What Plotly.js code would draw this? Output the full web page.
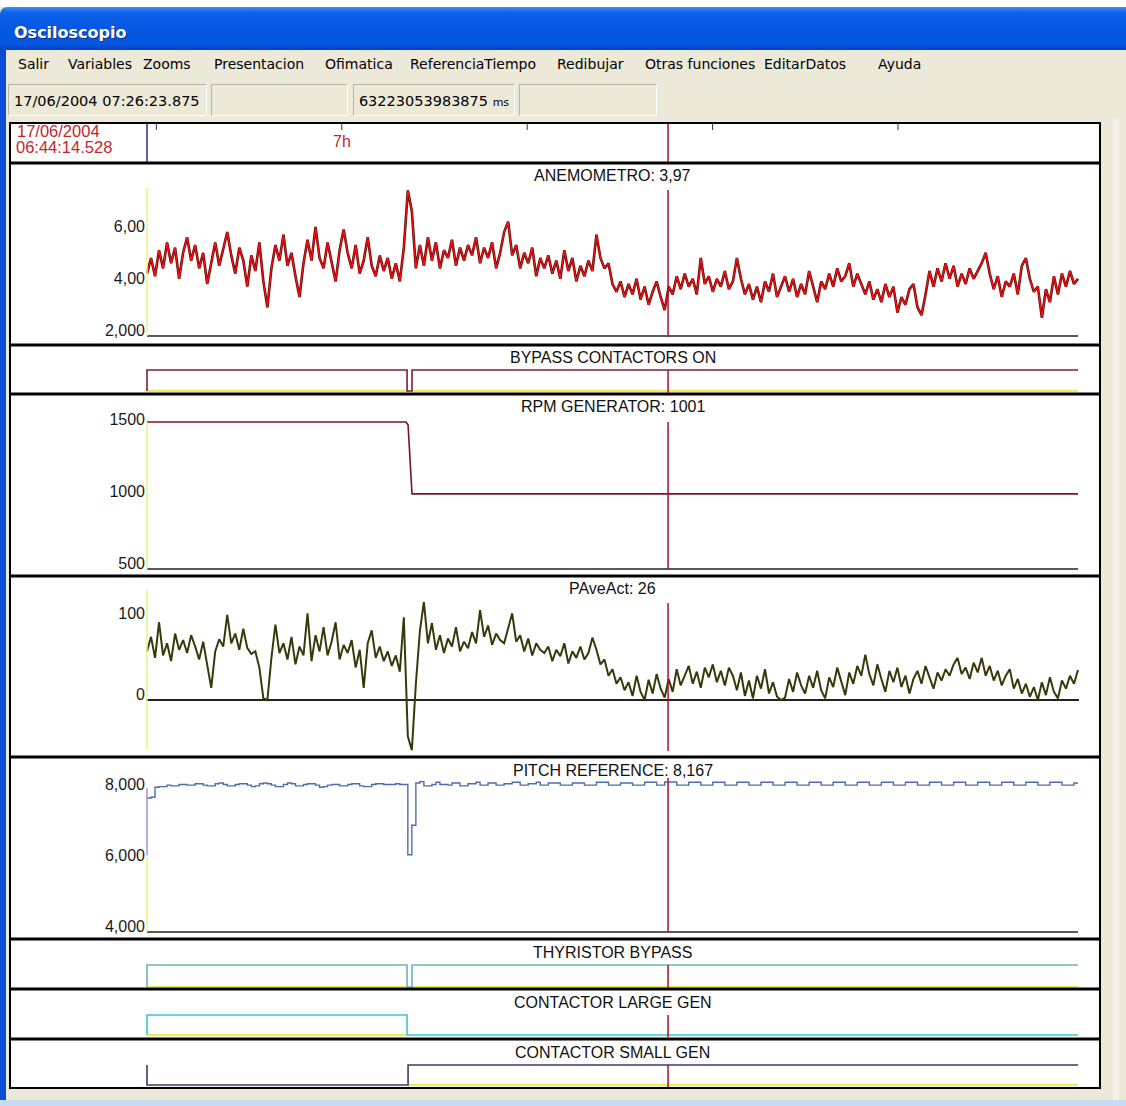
<!DOCTYPE html>
<html>
<head>
<meta charset="utf-8">
<script src="https://cdn.plot.ly/plotly-3.0.1.min.js"></script>
<style>
html,body{margin:0;padding:0;width:1126px;height:1106px;overflow:hidden;background:#ece9d8;font-family:"DejaVu Sans",sans-serif;position:relative;}
#topwhite{position:absolute;left:0;top:0;width:1126px;height:7px;background:#ffffff;}
#titlebar{position:absolute;left:0;top:7px;width:1126px;height:43px;border-top-left-radius:7px;
 background:linear-gradient(to bottom,#3d8ff6 0%,#0e63ea 12%,#0558e2 45%,#0556e0 85%,#0344c4 100%);}
#titletext{position:absolute;left:14px;top:4px;height:43px;line-height:43px;color:#fff;font-weight:bold;font-size:16px;text-shadow:1px 1px 0 #0b2f8a;}
.mi{position:absolute;top:55px;height:18px;line-height:18px;font-size:14px;color:#000;white-space:nowrap;}
.sb{position:absolute;top:84px;height:32px;line-height:32px;box-sizing:border-box;border:1px solid;border-color:#b8b4a4 #ffffff #ffffff #b8b4a4;font-size:14.5px;color:#000;white-space:nowrap;}
#leftborder{position:absolute;left:0;top:50px;width:6px;height:1056px;background:#0c4bd6;}
#bottomstrip{position:absolute;left:0;top:1100px;width:1126px;height:6px;background:#c9dcf6;}
#rightstrip{position:absolute;left:1113px;top:118px;width:6px;height:982px;background:#f3f1e7;}
#plot{position:absolute;left:8px;top:120px;width:1094px;height:970px;}
</style>
</head>
<body>
<div id="topwhite"></div>
<div id="titlebar"><div id="titletext">Osciloscopio</div></div>
<div id="menu"></div>
<div id="status"></div>
<div id="leftborder"></div>
<div id="rightstrip"></div>
<div id="bottomstrip"></div>
<div id="plot"></div>
<script>
// ---------------- DATA ----------------
const menuItems = ["Salir","Variables","Zooms","Presentacion","Ofimatica","ReferenciaTiempo","Redibujar","Otras funciones","EditarDatos","Ayuda"];
const statusCursorDate = "17/06/2004 07:26:23.875";
const statusCursorMs = "63223053983875";
const startDate = "17/06/2004";
const startClock = "06:44:14.528";

const T_END = 75.32;          // minutes shown after start
const CURSOR_T = 42.156;      // cursor position, minutes after start (07:26:23.875)
const tickTimes = [0.758, 15.758, 30.758, 45.758, 60.758];  // 06:45, 07:00, 07:15, 07:30, 07:45
const tickLabels = ["", "7h", "", "", ""];

const panelTitles = ["ANEMOMETRO: 3,97","BYPASS CONTACTORS ON","RPM GENERATOR: 1001","PAveAct: 26","PITCH REFERENCE: 8,167","THYRISTOR BYPASS","CONTACTOR LARGE GEN","CONTACTOR SMALL GEN"];

const anemoTickVals = [2, 4, 6];
const anemoTickText = ["2,000", "4,00", "6,00"];
const rpmTickVals = [500, 1000, 1500];
const rpmTickText = ["500", "1000", "1500"];
const paveTickVals = [0, 100];
const paveTickText = ["0", "100"];
const pitchTickVals = [4, 6, 8];
const pitchTickText = ["4,000", "6,000", "8,000"];

const anemometro = [
 4.4,5.0,4.3,5.3,4.6,5.6,4.8,5.4,4.2,5.2,
 5.8,4.9,5.5,4.6,5.2,4.0,4.8,5.6,4.7,5.3,
 6.0,5.1,4.4,5.4,4.9,3.9,5.1,4.5,5.6,4.1,
 3.1,4.6,5.5,4.9,5.9,4.7,5.2,4.3,3.5,4.8,
 5.7,4.9,6.2,5.0,4.6,5.6,4.8,4.1,5.3,6.1,
 5.2,4.6,5.5,4.4,4.9,5.8,4.7,4.3,5.1,4.5,
 5.0,4.2,4.8,4.1,5.4,7.6,6.8,4.6,5.5,4.7,
 5.8,4.9,5.6,4.6,5.3,5.0,5.7,4.7,5.4,4.9,
 5.5,5.1,5.8,4.8,5.4,5.0,5.6,4.6,5.2,6.0,
 6.4,5.1,5.5,4.6,5.2,4.8,5.4,4.3,5.0,4.6,
 5.1,4.4,4.9,4.2,5.3,4.5,5.0,4.1,4.7,4.3,
 4.9,4.5,5.9,5.0,4.6,4.8,4.0,3.7,4.1,3.5,
 4.0,3.6,4.2,3.4,3.9,3.2,3.7,4.1,3.5,3.0,
 3.9,3.6,4.3,3.8,4.4,3.9,4.2,3.6,5.0,4.0,
 4.3,3.7,4.2,3.9,4.5,3.8,4.1,5.0,4.2,3.6,
 4.0,3.4,3.9,3.3,4.1,3.7,4.4,3.5,3.9,4.3,
 3.7,4.2,3.5,4.0,3.6,4.5,3.9,3.3,4.1,3.8,
 4.4,3.9,4.6,4.1,4.3,4.8,3.9,4.4,4.0,3.6,
 4.1,3.4,3.8,3.3,4.0,3.5,3.9,2.9,3.5,3.2,
 3.8,4.0,3.1,2.8,3.6,4.5,3.9,4.6,4.1,4.8,
 4.2,4.7,3.9,4.4,4.0,4.6,4.2,4.5,4.8,5.2,
 4.4,3.8,4.3,3.5,4.1,3.9,4.4,3.6,4.7,5.0,
 4.2,3.7,3.9,2.7,3.8,3.3,4.3,3.6,4.4,3.9,
 4.5,4.0,4.2
];

const paveAct = [
 60,78,52,96,55,70,48,82,62,74,
 58,80,66,50,72,45,15,60,75,66,
 105,70,82,62,88,64,57,60,40,2,
 0,52,93,58,70,50,78,44,66,55,
 107,48,80,60,90,55,72,96,50,68,
 58,74,40,62,15,70,86,52,66,48,
 60,42,55,35,102,-45,-62,20,85,121,
 70,95,62,80,58,76,66,90,60,72,
 64,84,70,111,78,92,68,82,74,70,
 88,107,72,80,60,76,55,70,62,58,
 66,48,62,54,70,45,60,52,66,50,
 58,77,62,44,50,30,38,20,28,12,
 22,5,30,10,0,25,8,32,14,3,
 26,10,38,18,30,42,20,35,15,40,
 28,44,22,36,18,40,30,12,34,5,
 24,2,30,14,38,8,22,4,0,3,
 26,10,34,18,8,30,15,36,12,2,
 28,16,40,22,6,34,20,42,30,56,
 32,18,44,26,10,36,22,40,16,30,
 8,26,36,20,42,28,14,34,24,38,
 30,44,52,32,40,26,46,34,52,30,
 42,24,36,18,30,38,14,26,8,20,
 4,16,0,22,6,28,10,2,24,14,
 30,20,37
];

const pitchRef = [
 7.72,7.74,8.02,8.04,8.04,8.08,8.06,8.06,8.10,8.10,
 8.08,8.08,8.12,8.12,8.08,8.06,8.06,8.12,8.14,8.10,
 8.06,8.06,8.10,8.12,8.12,8.08,8.04,8.06,8.12,8.14,
 8.12,8.08,8.04,8.04,8.10,8.14,8.12,8.06,8.06,8.10,
 8.12,8.12,8.08,8.02,8.04,8.08,8.10,8.10,8.06,8.06,
 8.10,8.12,8.12,8.06,8.04,8.04,8.10,8.12,8.12,8.10,
 8.10,8.10,8.12,8.10,8.10,6.12,6.95,8.14,8.18,8.06,
 8.06,8.10,8.16,8.10,8.10,8.08,8.14,8.14,8.06,8.06,
 8.12,8.12,8.16,8.08,8.08,8.14,8.14,8.08,8.08,8.12,
 8.12,8.16,8.16,8.08,8.08,8.12,8.12,8.16,8.08,8.08,
 8.14,8.14,8.14,8.08,8.08,8.08,8.14,8.14,8.14,8.08,
 8.08,8.08,8.16,8.16,8.16,8.08,8.08,8.08,8.14,8.14,
 8.14,8.08,8.08,8.08,8.16,8.16,8.16,8.08,8.08,8.17,
 8.17,8.17,8.08,8.08,8.08,8.16,8.16,8.16,8.08,8.08,
 8.08,8.16,8.16,8.16,8.08,8.08,8.08,8.16,8.16,8.16,
 8.08,8.08,8.08,8.16,8.16,8.16,8.08,8.08,8.08,8.16,
 8.16,8.16,8.08,8.08,8.08,8.16,8.16,8.16,8.08,8.08,
 8.08,8.16,8.16,8.16,8.08,8.08,8.08,8.16,8.16,8.16,
 8.08,8.08,8.08,8.16,8.16,8.16,8.08,8.08,8.08,8.16,
 8.16,8.16,8.08,8.08,8.08,8.16,8.16,8.16,8.08,8.08,
 8.08,8.16,8.16,8.16,8.08,8.08,8.08,8.16,8.16,8.16,
 8.08,8.08,8.08,8.16,8.16,8.16,8.08,8.08,8.08,8.16,
 8.16,8.16,8.08,8.08,8.08,8.16,8.16,8.16,8.08,8.08,
 8.08,8.14,8.14
];

const rpmTimes = [0, 20.95, 21.12, 21.44, 75.32];
const rpmValues = [1500, 1500, 1480, 1001, 1001];

const bypassTimes = [0, 0, 21.04, 21.44, 75.32];
const bypassStates = [0, 1, 0, 1, 1];
const thyristorTimes = [0, 0, 21.04, 21.44, 75.32];
const thyristorStates = [0, 1, 0, 1, 1];
const largeGenTimes = [0, 0, 21.04, 75.32];
const largeGenStates = [0, 1, 0, 0];
const smallGenTimes = [0, 0, 21.12, 75.32];
const smallGenStates = [1, 0, 1, 1];

// ---------------- CHROME ----------------
const menuX = [18, 68, 143, 214, 325, 410, 557, 645, 764, 878];
const menu = document.getElementById('menu');
menuItems.forEach((m, i) => {
  const s = document.createElement('div'); s.className = 'mi'; s.style.left = menuX[i] + 'px'; s.textContent = m; menu.appendChild(s);
});
const status = document.getElementById('status');
const boxes = [[8, 207, statusCursorDate, 'left'], [211, 348, '', 'left'], [353, 515, statusCursorMs + ' <span style="font-size:11px">ms</span>', 'center'], [519, 657, '', 'left']];
boxes.forEach(b => {
  const d = document.createElement('div'); d.className = 'sb';
  d.style.left = b[0] + 'px'; d.style.width = (b[1] - b[0]) + 'px';
  d.style.textAlign = b[3]; d.style.paddingLeft = b[3] === 'left' ? '5px' : '0';
  d.innerHTML = b[2]; status.appendChild(d);
});

// ---------------- GEOMETRY ----------------
const DIV_LEFT = 8, DIV_TOP = 120, DIV_W = 1094, DIV_H = 970;
const DATA_L = 147, DATA_R = 1078;             // pixel span of [0, T_END]
const PX_PER_MIN = (DATA_R - DATA_L) / T_END;
const PLOT_L = 146, PLOT_R = 1079;
const fy = p => (DIV_TOP + DIV_H - p) / DIV_H;
const fx = p => (p - PLOT_L) / (PLOT_R - PLOT_L);
const pxToT = p => (p - DATA_L) / PX_PER_MIN;

const FONT = "'Liberation Sans', Arial, sans-serif";
const TICKFONT = {family: FONT, size: 16, color: '#1a1a1a'};

function yAxisFor(pTop, pBot, vA, pA, vB, pB, extra) {
  const k = (vB - vA) / (pB - pA);
  const v = p => vA + (p - pA) * k;
  return Object.assign({
    domain: [fy(pBot), fy(pTop)], range: [v(pBot), v(pTop)], anchor: 'x',
    showgrid: false, zeroline: false, showline: false, ticks: '', showticklabels: false,
    fixedrange: true, tickfont: TICKFONT
  }, extra || {});
}

const sampleTimes = anemometro.map((_, i) => i * T_END / (anemometro.length - 1));

function highSegments(T, S) {
  const x = [], y = [];
  for (let i = 0; i < T.length - 1; i++) {
    if (S[i] === 1 && T[i + 1] > T[i]) { x.push(T[i], T[i + 1], null); y.push(0, 0, null); }
  }
  return {x, y};
}

const YELLOW = '#eded5a';
const traces = [];
function addDigital(T, S, yax, color) {
  const hs = highSegments(T, S);
  traces.push({x: hs.x, y: hs.y, yaxis: yax, mode: 'lines', line: {color: YELLOW, width: 2.5}, hoverinfo: 'skip'});
  traces.push({x: T, y: S, yaxis: yax, mode: 'lines', line: {color: color, width: 1.6, shape: 'hv'}, hoverinfo: 'skip'});
}

traces.push({x: sampleTimes, y: anemometro, yaxis: 'y', mode: 'lines', line: {color: '#5c0a0a', width: 2.6}, hoverinfo: 'skip'});
traces.push({x: sampleTimes, y: anemometro, yaxis: 'y', mode: 'lines', line: {color: '#ff1010', width: 1.2}, hoverinfo: 'skip'});
addDigital(bypassTimes, bypassStates, 'y2', '#7e1f30');
traces.push({x: rpmTimes, y: rpmValues, yaxis: 'y3', mode: 'lines', line: {color: '#7a1424', width: 1.6}, hoverinfo: 'skip'});
traces.push({x: sampleTimes, y: paveAct, yaxis: 'y4', mode: 'lines', line: {color: '#3a380a', width: 2.0}, hoverinfo: 'skip'});
traces.push({x: sampleTimes, y: pitchRef, yaxis: 'y5', mode: 'lines', line: {color: '#4d6cae', width: 1.4, shape: 'hv'}, hoverinfo: 'skip'});
addDigital(thyristorTimes, thyristorStates, 'y6', '#72b0c4');
addDigital(largeGenTimes, largeGenStates, 'y7', '#36c8d2');
addDigital(smallGenTimes, smallGenStates, 'y8', '#4a3268');

// ---------------- SHAPES ----------------
const shapes = [];
shapes.push({type: 'rect', xref: 'paper', yref: 'paper', x0: fx(10), x1: fx(1100), y0: fy(1088), y1: fy(123),
  fillcolor: '#ffffff', line: {color: '#000', width: 2}, layer: 'below'});
[163, 345, 394, 576, 757, 939, 989, 1039].forEach(p => shapes.push({type: 'line', xref: 'paper', yref: 'paper',
  x0: fx(10), x1: fx(1100), y0: fy(p), y1: fy(p), line: {color: '#000', width: 3}}));
[336, 569, 932].forEach(p => shapes.push({type: 'line', xref: 'paper', yref: 'paper',
  x0: fx(DATA_L), x1: fx(DATA_R), y0: fy(p), y1: fy(p), line: {color: '#222', width: 1.5}}));
function vline(t, pTop, pBot, color, w) {
  shapes.push({type: 'line', xref: 'x', yref: 'paper', x0: t, x1: t, y0: fy(pBot), y1: fy(pTop), line: {color: color, width: w}});
}
vline(0, 124, 162, '#2c2c8c', 1.5);
vline(0, 188, 336, '#f2f27a', 1.5);
vline(0, 422, 569, '#f2f27a', 1.5);
vline(0, 590, 750, '#f2f27a', 1.5);
vline(0, 788, 855, '#b08ad0', 1.5);
vline(0, 855, 932, '#f2f27a', 1.5);
tickTimes.forEach(t => vline(t, 124, 130, '#333', 1));
[[124, 162], [190, 337], [370, 393], [422, 569], [603, 751], [778, 932], [965, 988], [1015, 1037], [1065, 1087]]
  .forEach(r => vline(CURSOR_T, r[0], r[1], '#a3142c', 1.5));

// ---------------- ANNOTATIONS ----------------
const annotations = [];
const titleY = [175, 357, 407, 589, 770, 952, 1002, 1052];
panelTitles.forEach((t, i) => annotations.push({text: t, xref: 'paper', yref: 'paper', x: 0.5, y: fy(titleY[i]),
  xanchor: 'center', yanchor: 'middle', showarrow: false, font: {family: FONT, size: 16, color: '#111'}}));
annotations.push({text: startDate, xref: 'paper', yref: 'paper', x: fx(15), y: fy(131), xanchor: 'left', yanchor: 'middle',
  showarrow: false, font: {family: FONT, size: 16.5, color: '#c4262c'}});
annotations.push({text: startClock, xref: 'paper', yref: 'paper', x: fx(14), y: fy(147), xanchor: 'left', yanchor: 'middle',
  showarrow: false, font: {family: FONT, size: 16.5, color: '#c4262c'}});
tickTimes.forEach((t, i) => { if (tickLabels[i]) annotations.push({text: tickLabels[i], xref: 'x', yref: 'paper', x: t, y: fy(141),
  xanchor: 'center', yanchor: 'middle', showarrow: false, font: {family: FONT, size: 16, color: '#c4262c'}}); });

// ---------------- LAYOUT ----------------
const layout = {
  width: DIV_W, height: DIV_H,
  margin: {l: PLOT_L - DIV_LEFT, r: DIV_LEFT + DIV_W - PLOT_R, t: 0, b: 0, pad: 0},
  paper_bgcolor: 'rgba(0,0,0,0)', plot_bgcolor: 'rgba(0,0,0,0)',
  showlegend: false,
  xaxis: {range: [pxToT(PLOT_L), pxToT(PLOT_R)], visible: false, fixedrange: true},
  yaxis: yAxisFor(166, 336, 2, 336, 6, 232, {showticklabels: true, tickvals: anemoTickVals, ticktext: anemoTickText, ticklabelshift: -6}),
  yaxis2: yAxisFor(348, 392, 0, 391, 1, 370),
  yaxis3: yAxisFor(398, 569, 1000, 494, 1500, 422, {showticklabels: true, tickvals: rpmTickVals, ticktext: rpmTickText, ticklabelshift: -3}),
  yaxis4: yAxisFor(580, 756, 0, 700, 100, 619, {showticklabels: true, tickvals: paveTickVals, ticktext: paveTickText, ticklabelshift: -6,
    zeroline: true, zerolinecolor: '#222', zerolinewidth: 1.5}),
  yaxis5: yAxisFor(761, 932, 4, 930, 8, 788, {showticklabels: true, tickvals: pitchTickVals, ticktext: pitchTickText, ticklabelshift: -4}),
  yaxis6: yAxisFor(943, 988, 0, 987, 1, 965),
  yaxis7: yAxisFor(993, 1037, 0, 1035, 1, 1015),
  yaxis8: yAxisFor(1043, 1087, 0, 1085, 1, 1065),
  shapes: shapes,
  annotations: annotations
};

Plotly.newPlot('plot', traces, layout, {displayModeBar: false, staticPlot: true});
</script>
</body>
</html>
